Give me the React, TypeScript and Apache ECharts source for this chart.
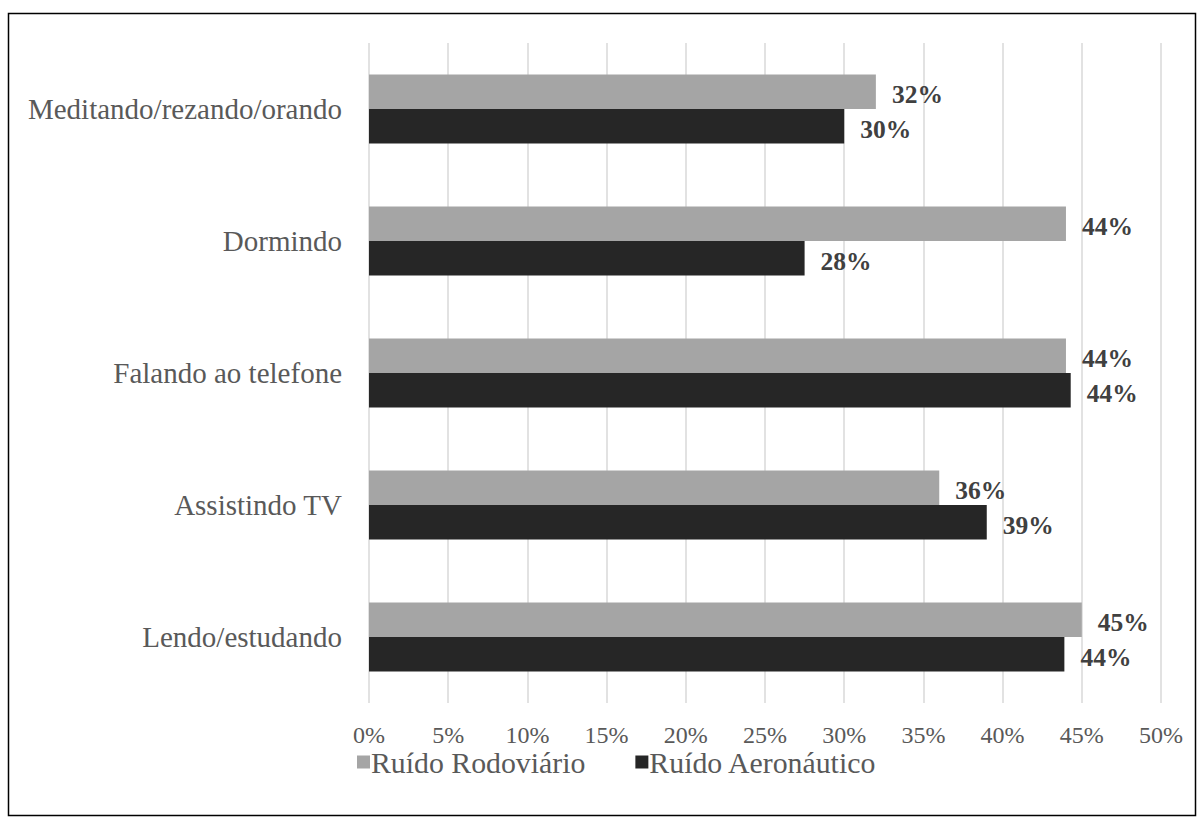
import React, { useEffect, useRef } from 'react';
import * as echarts from 'echarts';

const categories = [
  'Meditando/rezando/orando',
  'Dormindo',
  'Falando ao telefone',
  'Assistindo TV',
  'Lendo/estudando',
];
const seriesNames = ['Ruído Rodoviário', 'Ruído Aeronáutico'];
const rodoviario = [32, 44, 44, 36, 45];
const aeronautico = [30, 27.5, 44.3, 39, 43.9];
const axisMin = 0;
const axisMax = 50;
const axisStep = 5;

export default function App() {
  const ref = useRef<HTMLDivElement>(null);
  useEffect(() => {
    if (!ref.current) return;
    const chart = echarts.init(ref.current, null, { renderer: 'svg' });
    const font = '"Liberation Serif", "Times New Roman", serif';
    const barLabel = {
      show: true,
      position: 'right',
      distance: 16,
      offset: [0, 3],
      fontFamily: font,
      fontSize: 25.5,
      fontWeight: 'bold',
      color: '#404040',
      formatter: (p: any) => Math.round(p.value) + '%',
    };
    chart.setOption({
      animation: false,
      grid: { left: 369, right: 43, top: 43, bottom: 121, containLabel: false },
      xAxis: {
        type: 'value',
        min: axisMin,
        max: axisMax,
        interval: axisStep,
        axisLabel: {
          formatter: '{value}%',
          fontFamily: font,
          fontSize: 24,
          lineHeight: 20,
          color: '#595959',
          margin: 22,
        },
        splitLine: { show: true, lineStyle: { color: '#d9d9d9', width: 1.5 } },
        axisLine: { show: false },
        axisTick: { show: false },
      },
      yAxis: {
        type: 'category',
        inverse: true,
        data: categories,
        axisLine: { show: false },
        axisTick: { show: false },
        axisLabel: {
          fontFamily: font,
          fontSize: 29,
          color: '#595959',
          margin: 27,
        },
      },
      legend: {
        data: seriesNames,
        left: 352,
        top: 742,
        icon: 'rect',
        itemWidth: 13,
        itemHeight: 13,
        itemGap: 50,
        textStyle: {
          fontFamily: font,
          fontSize: 29.8,
          lineHeight: 24,
          color: '#595959',
          padding: [0, 0, 0, -4],
        },
      },
      graphic: [
        {
          type: 'rect',
          silent: true,
          shape: { x: 8.5, y: 13.5, width: 1187, height: 802 },
          style: { fill: 'none', stroke: '#000', lineWidth: 1.5 },
        },
      ],
      series: [
        {
          name: seriesNames[0],
          type: 'bar',
          data: rodoviario,
          itemStyle: { color: '#a5a5a5' },
          barGap: '0%',
          barCategoryGap: '47.7%',
          label: barLabel,
        },
        {
          name: seriesNames[1],
          type: 'bar',
          data: aeronautico,
          itemStyle: { color: '#262626' },
          barGap: '0%',
          barCategoryGap: '47.7%',
          label: barLabel,
        },
      ],
    });
    return () => chart.dispose();
  }, []);
  return (
    <div
      ref={ref}
      style={{ position: 'absolute', left: 0, top: 0, width: 1204, height: 824, background: '#fff' }}
    />
  );
}
